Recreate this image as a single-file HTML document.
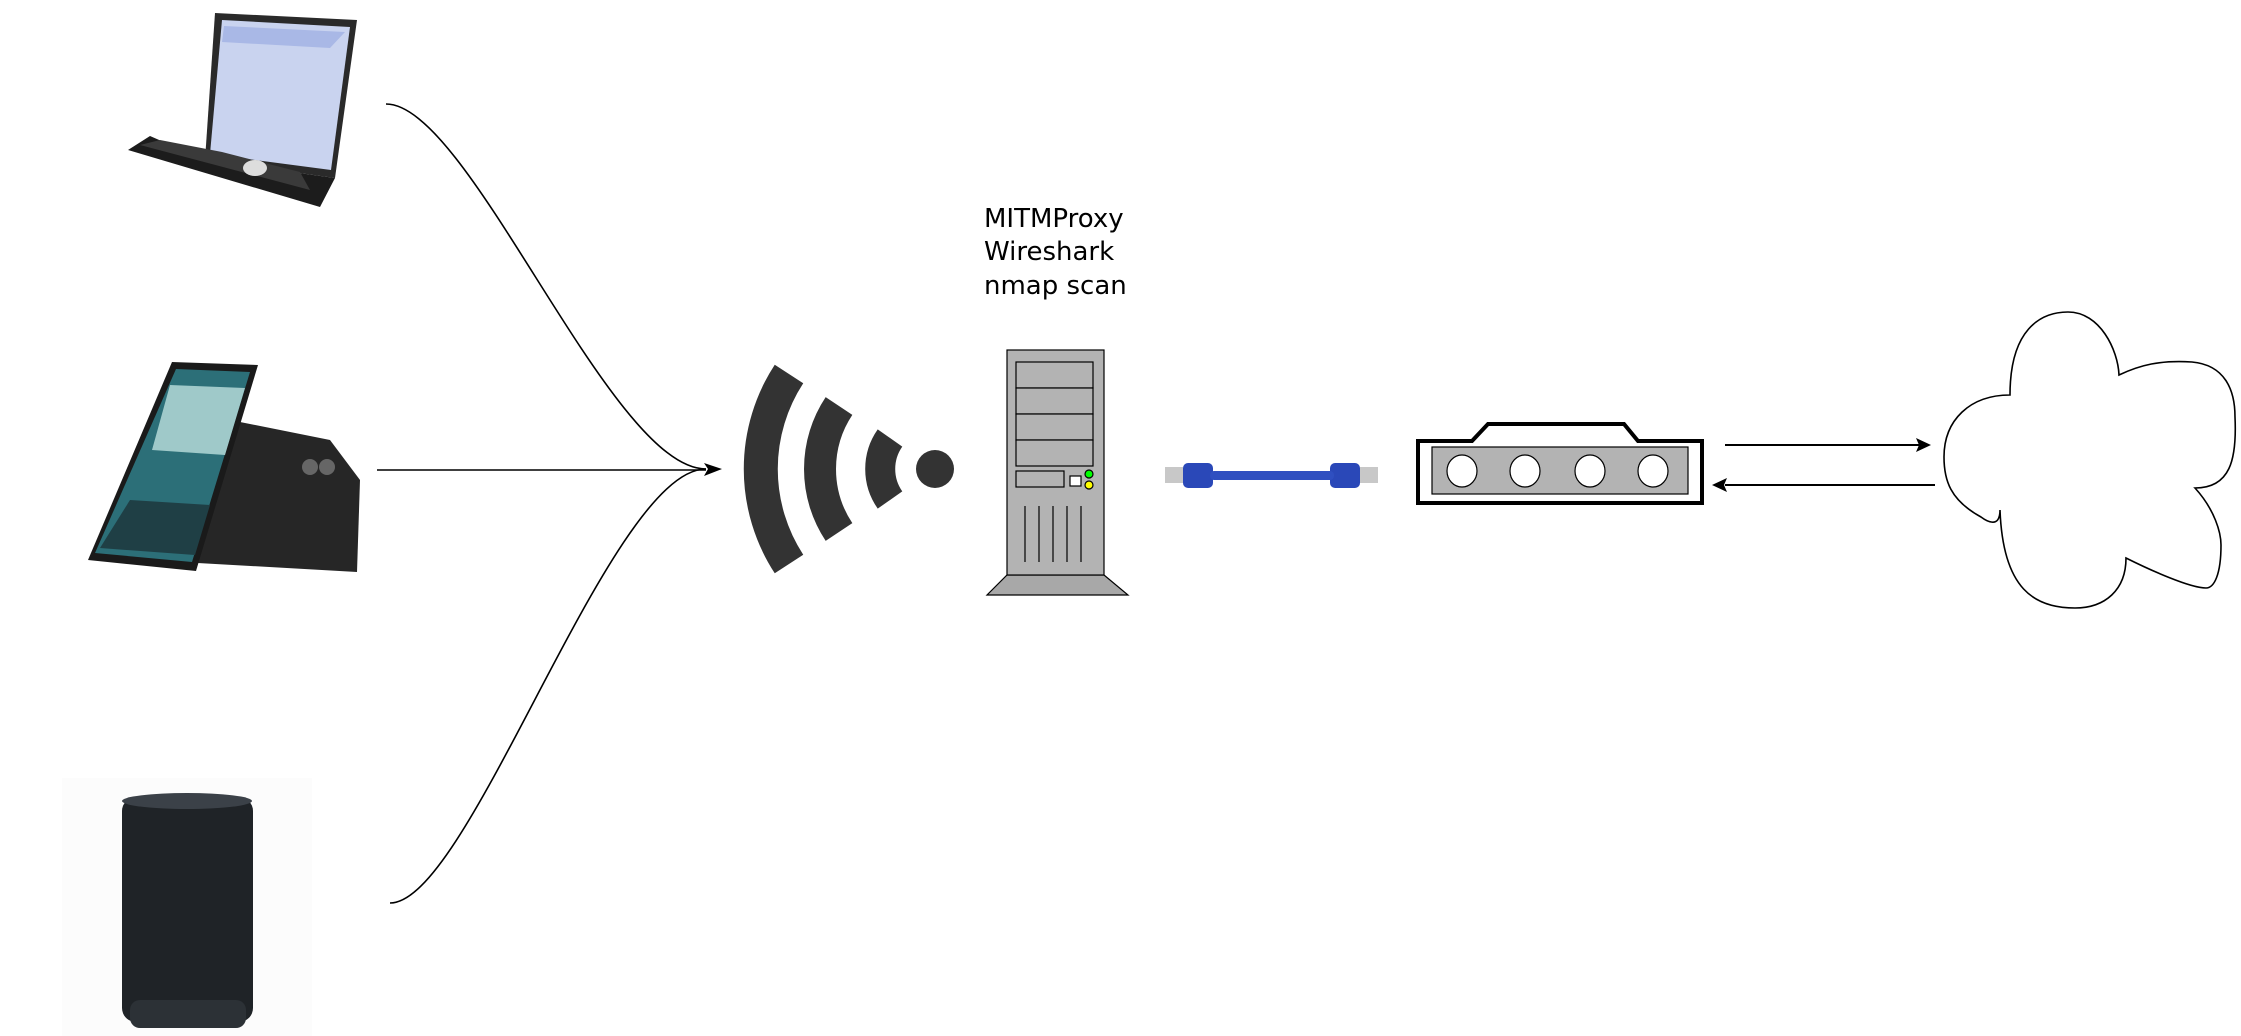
<!DOCTYPE html>
<html><head><meta charset="utf-8"><style>
html,body{margin:0;padding:0;background:#fff;}
svg{display:block;}
text{font-family:"DejaVu Sans","Liberation Sans",sans-serif;}
</style></head><body>
<svg width="2241" height="1036" viewBox="0 0 2241 1036" xmlns="http://www.w3.org/2000/svg">
<!-- laptop -->
<g>
<polygon points="215,13 357,20 335,178 205,160" fill="#2a2a2a"/>
<polygon points="222,20 350,27 331,170 210,154" fill="#c9d3ef"/>
<polygon points="224,26 345,32 330,48 222,42" fill="#a9b8e6"/>
<polygon points="205,160 335,178 320,207 128,150 150,136" fill="#1c1c1c"/>
<polygon points="160,140 222,152 300,172 310,190 140,145" fill="#3a3a3a"/>
<ellipse cx="255" cy="168" rx="12" ry="8" fill="#ddd"/>
</g>
<!-- phone -->
<g>
<polygon points="230,420 330,440 360,480 357,572 180,562" fill="#262626"/>
<ellipse cx="310" cy="467" rx="8" ry="8" fill="#666"/>
<ellipse cx="327" cy="467" rx="8" ry="8" fill="#666"/>
<polygon points="172,362 258,365 196,571 88,560" fill="#1a1a1a"/>
<polygon points="176,369 250,372 192,562 95,553" fill="#2c6f78"/>
<polygon points="170,385 245,388 225,455 152,450" fill="#9fc9c9"/>
<polygon points="130,500 210,505 195,555 100,548" fill="#1f3f45"/>
</g>
<!-- speaker -->
<g>
<rect x="62" y="778" width="250" height="258" fill="#fcfcfc"/>
<rect x="122" y="797" width="131" height="225" rx="14" fill="#1f2327"/>
<ellipse cx="187" cy="801" rx="65" ry="8" fill="#3b4148"/>
<rect x="130" y="1000" width="116" height="28" rx="10" fill="#2c3136"/>
</g>
<!-- connectors -->
<g fill="none" stroke="#000" stroke-width="1.6">
<path d="M386,104 C470,104 610,469 706,469"/>
<path d="M377,470 L706,470"/>
<path d="M390,903 C470,903 610,469 706,469"/>
</g>
<polygon points="722,469 704,463 708,469 704,476" fill="#000"/>
<!-- wifi -->
<g fill="none" stroke="#333" stroke-width="34">
<path d="M789,374 A174,174 0 0 0 789,564"/>
</g>
<g fill="none" stroke="#333" stroke-width="32">
<path d="M839,406 A114,114 0 0 0 839,532"/>
</g>
<g fill="none" stroke="#333" stroke-width="30">
<path d="M890,438 A54,54 0 0 0 890,500"/>
</g>
<circle cx="935" cy="469" r="19" fill="#333"/>
<!-- text -->
<text x="984" y="227" font-size="26" fill="#000">MITMProxy</text>
<text x="984" y="260" font-size="26" fill="#000">Wireshark</text>
<text x="984" y="294" font-size="26" fill="#000">nmap scan</text>
<!-- server -->
<g stroke="#000" stroke-width="1.2">
<polygon points="1007,575 1104,575 1128,595 987,595" fill="#a8a8a8"/>
<rect x="1007" y="350" width="97" height="225" fill="#b3b3b3"/>
<rect x="1016" y="362" width="77" height="26" fill="#b3b3b3"/>
<rect x="1016" y="388" width="77" height="26" fill="#b3b3b3"/>
<rect x="1016" y="414" width="77" height="26" fill="#b3b3b3"/>
<rect x="1016" y="440" width="77" height="26" fill="#b3b3b3"/>
<rect x="1016" y="471" width="48" height="16" fill="#b3b3b3"/>
<rect x="1070" y="476" width="11" height="10" fill="#fff"/>
<circle cx="1089" cy="474" r="4" fill="#0f0"/>
<circle cx="1089" cy="485" r="4" fill="#ff0"/>
<path d="M1025,506V562M1039,506V562M1053,506V562M1067,506V562M1081,506V562" fill="none"/>
</g>
<!-- cable -->
<g>
<rect x="1165" y="467" width="18" height="16" fill="#c8c8c8"/>
<rect x="1360" y="467" width="18" height="16" fill="#c8c8c8"/>
<rect x="1183" y="463" width="30" height="25" rx="5" fill="#2a48b8"/>
<rect x="1330" y="463" width="30" height="25" rx="5" fill="#2a48b8"/>
<rect x="1210" y="471" width="124" height="9" rx="4" fill="#2f4fc0"/>
</g>
<!-- switch -->
<path d="M1418,441 H1472 L1488,424 H1624 L1638,441 H1702 V503 H1418 Z" fill="#fff" stroke="#000" stroke-width="4"/>
<rect x="1432" y="447" width="256" height="47" fill="#b3b3b3" stroke="#000" stroke-width="1.2"/>
<g fill="#fff" stroke="#000" stroke-width="1.2">
<ellipse cx="1462" cy="471" rx="15" ry="16"/>
<ellipse cx="1525" cy="471" rx="15" ry="16"/>
<ellipse cx="1590" cy="471" rx="15" ry="16"/>
<ellipse cx="1653" cy="471" rx="15" ry="16"/>
</g>
<!-- arrows -->
<g stroke="#000" stroke-width="2" fill="none">
<path d="M1725,445 H1920"/>
<path d="M1935,485 H1725"/>
</g>
<polygon points="1931,445 1916,438 1919,445 1916,452" fill="#000"/>
<polygon points="1712,485 1727,478 1724,485 1727,492" fill="#000"/>
<!-- cloud -->
<path d="M2010,395 C2010,330 2040,312 2068,312 C2100,312 2118,350 2119,375 C2140,365 2160,360 2192,362 C2225,365 2235,390 2235,417 C2237,460 2230,488 2195,488 C2215,510 2221,533 2221,545 C2221,575 2214,588 2206,588 C2190,588 2150,570 2126,558 C2126,590 2105,608 2075,608 C2035,608 2003,590 2000,510 C2000,530 1985,520 1981,517 C1950,500 1944,480 1944,457 C1944,420 1970,395 2010,395 Z" fill="#fff" stroke="#000" stroke-width="1.6"/>
</svg>
</body></html>
